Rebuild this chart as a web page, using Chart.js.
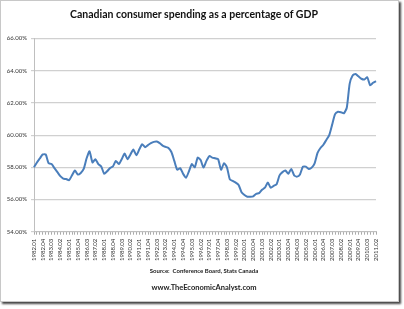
<!DOCTYPE html>
<html>
<head>
<meta charset="utf-8">
<script src="https://cdn.jsdelivr.net/npm/chart.js@4"></script>
<style>
    body { margin: 0; background: #fff; }
    #frame { position: absolute; left: 0; top: 0; width: 397px; height: 300px; border: 1px solid #c8c8c8; box-shadow: 2px 2px 2px #444; background: #fff; }
    #wrap { position: absolute; left: 0; top: 0; width: 404px; height: 309px; }
    .txt { position: absolute; text-align: center; font-family: Lato, sans-serif; color: #222; line-height: 13px; }
    #title { top: 8px; left: 0; width: 388px; font-size: 10.5px; font-weight: bold; color: #111; }
    #source { top: 264px; left: 0; width: 408px; font-size: 6px; font-weight: bold; }
    #site { top: 281px; left: 0; width: 408px; font-size: 7.5px; font-weight: bold; }
</style>
</head>
<body>
<div id="frame"></div>
<div id="wrap"><canvas id="myChart" width="404" height="309"></canvas></div>
<div class="txt" id="title">Canadian consumer spending as a percentage of GDP</div>
<div class="txt" id="source">Source:&nbsp; Conference Board, Stats Canada</div>
<div class="txt" id="site">www.TheEconomicAnalyst.com</div>
<script>
// quarters 1982.01 .. 2011.02
var quarters = [];
for (var y = 1982; y <= 2011; y++) {
    for (var q = 1; q <= 4; q++) {
        if (y === 2011 && q > 2) break;
        quarters.push(y + '.0' + q);
    }
}

// consumer spending, % of GDP
var spending = [
    58.0, 58.3, 58.55, 58.8, 58.8, 58.25, 58.2, 57.95, 57.7, 57.45,
    57.3, 57.27, 57.2, 57.5, 57.8, 57.55, 57.65, 57.9, 58.56, 59.0,
    58.3, 58.5, 58.2, 58.05, 57.6, 57.75, 57.95, 58.05, 58.4, 58.2,
    58.5, 58.85, 58.5, 58.8, 59.1, 58.75, 59.1, 59.43, 59.25, 59.38,
    59.5, 59.58, 59.6, 59.5, 59.35, 59.27, 59.2, 58.95, 58.4, 57.85,
    57.95, 57.6, 57.35, 57.75, 58.2, 58.0, 58.6, 58.45, 57.98, 58.4,
    58.7, 58.6, 58.56, 58.5, 57.85, 58.25, 58.0, 57.25, 57.15, 57.05,
    56.9, 56.45, 56.28, 56.17, 56.17, 56.2, 56.35, 56.4, 56.6, 56.73,
    57.05, 56.73, 56.85, 56.95, 57.5, 57.7, 57.8, 57.6, 57.9, 57.5,
    57.42, 57.56, 58.04, 58.04, 57.9, 57.98, 58.25, 58.9, 59.2, 59.4,
    59.7, 60.0, 60.65, 61.3, 61.45, 61.42, 61.35, 61.7, 63.2, 63.7,
    63.8, 63.65, 63.5, 63.45, 63.6, 63.1, 63.25, 63.35
];

var yTicks = [54, 56, 58, 60, 62, 64, 66];

var ctx = document.getElementById('myChart').getContext('2d');
var myChart = new Chart(ctx, {
    type: 'line',
    data: {
        labels: quarters,
        datasets: [{
            label: 'Consumer spending',
            data: spending,
            borderColor: '#4a7ebb',
            borderWidth: 2,
            pointRadius: 0,
            tension: 0.2,
            fill: false
        }]
    },
    options: {
        responsive: false,
        animation: false,
        layout: { padding: { left: 0, right: 28, top: 38.5, bottom: 0 } },
        plugins: {
            legend: { display: false },
            tooltip: { enabled: false },
            title: { display: false }
        },
        scales: {
            x: {
                afterFit: function (scale) { scale.height = 77.3; },
                grid: { drawOnChartArea: false, drawTicks: true, tickLength: 3, color: '#aaa' },
                border: { color: '#bfbfbf' },
                ticks: {
                    autoSkip: false,
                    minRotation: 90,
                    maxRotation: 90,
                    padding: 4,
                    color: '#333',
                    font: { family: 'Lato', size: 6 },
                    callback: function (value, index) {
                        return index % 3 === 0 ? quarters[index] : '';
                    }
                }
            },
            y: {
                min: yTicks[0],
                max: yTicks[yTicks.length - 1],
                afterFit: function (scale) { scale.width = 34; },
                afterBuildTicks: function (scale) {
                    scale.ticks = yTicks.map(function (v) { return { value: v }; });
                },
                grid: { color: '#d0d0d0', lineWidth: 1.2, tickLength: 3 },
                border: { color: '#bfbfbf' },
                ticks: {
                    padding: 4,
                    color: '#333',
                    font: { family: 'Lato', size: 6 },
                    callback: function (v) { return v.toFixed(2) + '%'; }
                }
            }
        }
    }
});
</script>
</body>
</html>
